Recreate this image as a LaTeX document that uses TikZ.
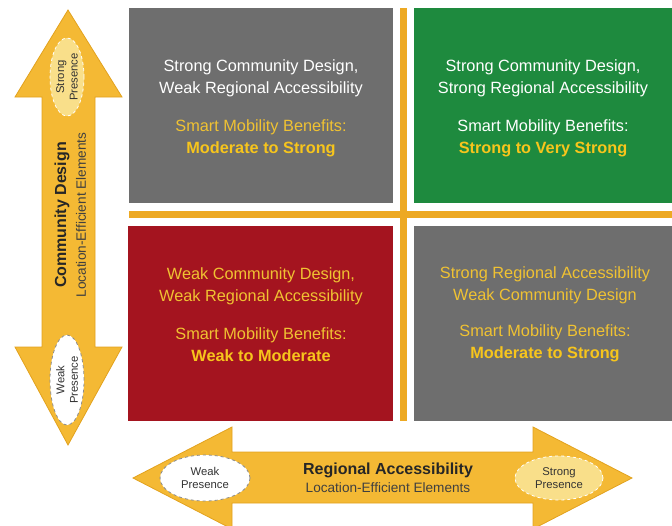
\documentclass[tikz,border=0pt]{standalone}
\usepackage{fontspec}
\setmainfont{Liberation Sans}
\usetikzlibrary{shapes.geometric}
\definecolor{boxgray}{HTML}{6E6E6E}
\definecolor{boxgreen}{HTML}{1E8A3E}
\definecolor{boxred}{HTML}{A4141F}
\definecolor{barorange}{HTML}{EDA923}
\definecolor{arrowgold}{HTML}{F4B934}
\definecolor{arrowedge}{HTML}{E2A21E}
\definecolor{txtyellow}{HTML}{F0C232}
\definecolor{txtbold}{HTML}{F7C51C}
\definecolor{ellyellow}{HTML}{F9DF8A}
\tikzset{
  bar/.style={fill=barorange},
  arrowshape/.style={fill=arrowgold, draw=arrowedge, line width=0.8pt, line join=miter},
  lbl/.style={align=center, font=\fontsize{16.3}{22}\selectfont, inner sep=0pt},
  ell/.style={ellipse, draw=white, dashed, line width=0.8pt, inner sep=0pt},
  elltxt/.style={font=\fontsize{11.3}{13.5}\selectfont, align=center, text=black!80},
}
\begin{document}
\begin{tikzpicture}[x=1pt,y=-1pt]
\useasboundingbox (0,0) rectangle (672,525);
\clip (0,0) rectangle (672,525);
% quadrants
\fill[boxgray] (129,8) rectangle (393,203);
\fill[boxgreen] (414,8) rectangle (672,203);
\fill[boxred] (128,226) rectangle (393,421);
\fill[boxgray] (414,226) rectangle (672,421);
% orange cross
\fill[bar] (129,211) rectangle (672,218);
\fill[bar] (400,8) rectangle (407,421);
% quadrant texts
\node[lbl, text=white] (tl1) at (261,78) {Strong Community Design,\\Weak Regional Accessibility};
\node[lbl, text=txtyellow] (tl2) at (261,138) {Smart Mobility Benefits:\\\textcolor{txtbold}{\textbf{Moderate to Strong}}};
\node[lbl, text=white] (tr1) at (543,78) {Strong Community Design,\\Strong Regional Accessibility};
\node[lbl, text=white] (tr2) at (543,138) {Smart Mobility Benefits:\\\textcolor{txtbold}{\textbf{Strong to Very Strong}}};
\node[lbl, text=txtyellow] (bl1) at (261,286) {Weak Community Design,\\Weak Regional Accessibility};
\node[lbl, text=txtyellow] (bl2) at (261,345) {Smart Mobility Benefits:\\\textcolor{txtbold}{\textbf{Weak to Moderate}}};
\node[lbl, text=txtyellow] (br1) at (545,285) {Strong Regional Accessibility\\Weak Community Design};
\node[lbl, text=txtyellow] (br2) at (545,343) {Smart Mobility Benefits:\\\textcolor{txtbold}{\textbf{Moderate to Strong}}};
% vertical double arrow
\filldraw[arrowshape] (68,10) -- (122,97) -- (95,97) -- (95,347) -- (122,347) -- (68,445)
  -- (15,347) -- (42,347) -- (42,97) -- (15,97) -- cycle;
% horizontal double arrow
\filldraw[arrowshape] (133,478) -- (232,427) -- (232,452) -- (533,452) -- (533,427) -- (632,478)
  -- (533,529) -- (533,503) -- (232,503) -- (232,529) -- cycle;
% ellipses vertical
\node[ell, fill=ellyellow, minimum width=34pt, minimum height=78pt] (vs) at (67,77) {};
\node[elltxt, rotate=90] (vstxt) at (vs.center) {Strong\\Presence};
\node[ell, fill=white, draw=black!45, minimum width=34pt, minimum height=90pt] (vw) at (67,380) {};
\node[elltxt, rotate=90] (vwtxt) at (vw.center) {Weak\\Presence};
% ellipses horizontal
\node[ell, fill=white, draw=black!45, minimum width=90pt, minimum height=46pt] (hw) at (205,478) {};
\node[elltxt] (hwtxt) at (hw.center) {Weak\\Presence};
\node[ell, fill=ellyellow, minimum width=88pt, minimum height=44pt] (hs) at (559,478) {};
\node[elltxt] (hstxt) at (hs.center) {Strong\\Presence};
% axis labels
\node[font=\fontsize{16}{18}\selectfont\bfseries, text=black!85, inner sep=0pt] (ra) at (388,470) {Regional Accessibility};
\node[font=\fontsize{13.6}{15}\selectfont, text=black!75, inner sep=0pt] (rasub) at (388,488) {Location-Efficient Elements};
\node[font=\fontsize{16}{18}\selectfont\bfseries, text=black!85, inner sep=0pt, rotate=90] (cd) at (62,215) {Community Design};
\node[font=\fontsize{13.6}{15}\selectfont, text=black!75, inner sep=0pt, rotate=90] (cdsub) at (81,215) {Location-Efficient Elements};
\end{tikzpicture}
\end{document}
